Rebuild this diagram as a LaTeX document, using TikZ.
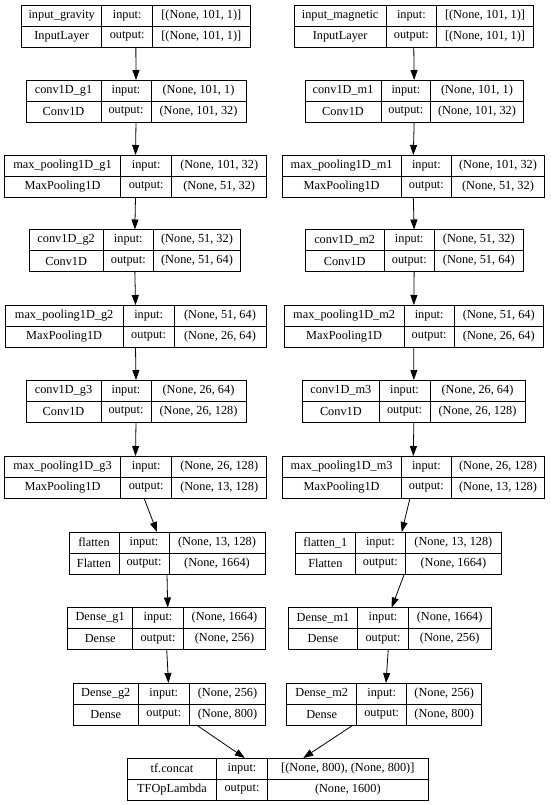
\documentclass[tikz,border=0pt]{standalone}
\usepackage{fontspec}
\setmainfont{Liberation Serif}
\usepackage{tikz}
\usetikzlibrary{arrows.meta}

\tikzset{
  layer/.style={draw, rectangle, inner sep=0pt, outer sep=0pt, anchor=north west, minimum height=42pt},
  cell/.style={inner sep=0pt, font=\fontsize{12.3}{14}\selectfont},
  flow/.style={-{Triangle[length=10pt,width=7pt]}, line width=0.8pt},
}

\begin{document}
\begin{tikzpicture}[x=1pt, y=-1pt, line width=0.8pt]
  \useasboundingbox (0,0) rectangle (550,805);
  % layers: id / left / divider 1 / divider 2 / right / top / name / type / input / output
  \foreach \id/\xl/\da/\db/\xr/\yt/\nm/\ty/\li/\lo in {
    ig/21.7/101.7/152.7/250/5/input\_gravity/InputLayer/{[(None, 101, 1)]}/{[(None, 101, 1)]},
    im/294.3/386/436.7/533.3/5/input\_magnetic/InputLayer/{[(None, 101, 1)]}/{[(None, 101, 1)]},
    cg1/26/101/151/246/80/conv1D\_g1/Conv1D/{(None, 101, 1)}/{(None, 101, 32)},
    cm1/305/381/430.7/523.3/80/conv1D\_m1/Conv1D/{(None, 101, 1)}/{(None, 101, 32)},
    pg1/4.3/120.7/171.7/266.7/155/max\_pooling1D\_g1/MaxPooling1D/{(None, 101, 32)}/{(None, 51, 32)},
    pm1/282.3/401/451.7/544.3/155/max\_pooling1D\_m1/MaxPooling1D/{(None, 101, 32)}/{(None, 51, 32)},
    cg2/29/103.3/153.3/240.7/229.5/conv1D\_g2/Conv1D/{(None, 51, 32)}/{(None, 51, 64)},
    cm2/305/384.3/434.3/523.3/229.5/conv1D\_m2/Conv1D/{(None, 51, 32)}/{(None, 51, 64)},
    pg2/5/123.3/174/266/305/max\_pooling1D\_g2/MaxPooling1D/{(None, 51, 64)}/{(None, 26, 64)},
    pm2/284.3/404/454.3/543.3/305/max\_pooling1D\_m2/MaxPooling1D/{(None, 51, 64)}/{(None, 26, 64)},
    cg3/26/101/151/246/380/conv1D\_g3/Conv1D/{(None, 26, 64)}/{(None, 26, 128)},
    cm3/302.7/379/430/525/380/conv1D\_m3/Conv1D/{(None, 26, 64)}/{(None, 26, 128)},
    pg3/4.3/120.7/171.7/266.7/456/max\_pooling1D\_g3/MaxPooling1D/{(None, 26, 128)}/{(None, 13, 128)},
    pm3/282.3/401/451.7/544.3/456/max\_pooling1D\_m3/MaxPooling1D/{(None, 26, 128)}/{(None, 13, 128)},
    fg/69/119/169/265/532/flatten/Flatten/{(None, 13, 128)}/{(None, 1664)},
    fm/295.7/355/405.7/501/532/flatten\_1/Flatten/{(None, 13, 128)}/{(None, 1664)},
    dg1/67.7/132.7/183.3/265.7/607.5/Dense\_g1/Dense/{(None, 1664)}/{(None, 256)},
    dm1/288.3/357.7/408.3/491/607.5/Dense\_m1/Dense/{(None, 1664)}/{(None, 256)},
    dg2/73.3/138.3/189.3/265.7/683/Dense\_g2/Dense/{(None, 256)}/{(None, 800)},
    dm2/286.7/356.7/406.7/481.7/683/Dense\_m2/Dense/{(None, 256)}/{(None, 800)},
    cat/127.3/216.7/267.3/428.3/758/tf.concat/TFOpLambda/{[(None, 800), (None, 800)]}/{(None, 1600)}%
  }{
    \pgfmathsetmacro\boxw{\xr-\xl}
    \node [layer, minimum width=\boxw pt] at (\xl,\yt) (\id) {};
    \draw (\id.west) -- (\id.east);
    \draw (\da,\yt) -- (\da,{\yt+42});
    \draw (\db,\yt) -- (\db,{\yt+42});
    \node [cell] at ({(\xl+\da)/2},{\yt+10.5}) {\nm};
    \node [cell] at ({(\xl+\da)/2},{\yt+31.5}) {\ty};
    \node [cell] at ({(\da+\db)/2},{\yt+10.5}) {input:};
    \node [cell] at ({(\da+\db)/2},{\yt+31.5}) {output:};
    \node [cell] at ({(\db+\xr)/2},{\yt+10.5}) {\li};
    \node [cell] at ({(\db+\xr)/2},{\yt+31.5}) {\lo};
  }
  % connectors: from / to / shift at start / shift at end
  \foreach \a/\b/\sa/\sb in {ig/cg1/0/0, cg1/pg1/0/0, pg1/cg2/0/0, cg2/pg2/0/0, pg2/cg3/0/0,
      cg3/pg3/0/0, pg3/fg/8.5/-10, fg/dg1/0/1, dg1/dg2/0/-1, dg2/cat/27/-33,
      im/cm1/0/0, cm1/pm1/0/0, pm1/cm2/0/0, cm2/pm2/0/0, pm2/cm3/0/0,
      cm3/pm3/0/0, pm3/fm/-3.3/3.4, fm/dm1/6/2, dm1/dm2/-1.4/1.8, dm2/cat/-31/25.5}
    \draw [flow] ([xshift=\sa pt]\a.south) -- ([xshift=\sb pt]\b.north);
\end{tikzpicture}
\end{document}
